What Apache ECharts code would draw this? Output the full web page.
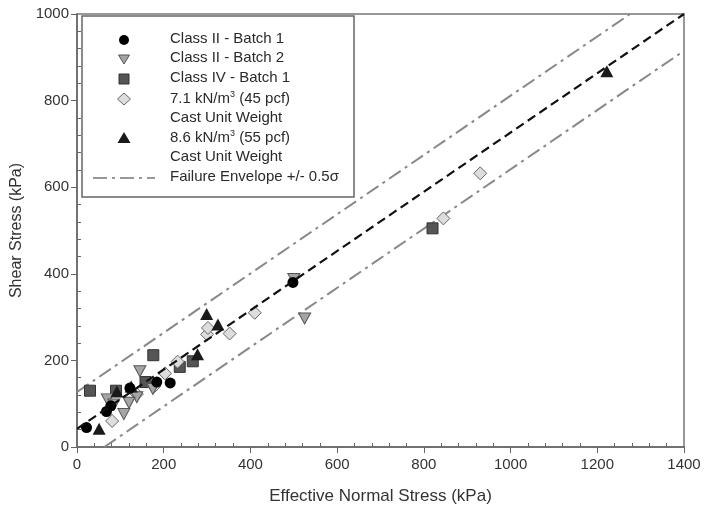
<!DOCTYPE html>
<html>
<head>
<meta charset="utf-8">
<script src="https://cdn.jsdelivr.net/npm/echarts@6/dist/echarts.min.js"></script>
<style>
  html, body { margin: 0; padding: 0; background: #fff; }
  #chart { width: 705px; height: 510px; }
</style>
</head>
<body>
<div id="chart"></div>
<script>
// data: [normal stress, shear stress] in kPa
var classII_b1 = [[22, 45], [68, 82], [78, 95], [122, 136], [184, 150], [215, 148], [498, 380]];
var classII_b2 = [[70, 110], [108, 76], [85, 98], [138, 115], [145, 175], [175, 134], [120, 102], [500, 388], [525, 297]];
var classIV_b1 = [[30, 130], [90, 130], [176, 212], [237, 185], [267, 198], [158, 150], [820, 505]];
var unit71 = [[81, 60], [138, 122], [178, 140], [203, 170], [232, 197], [300, 260], [302, 275], [352, 262], [410, 310], [845, 528], [930, 632]];
var unit86 = [[51, 42], [92, 128], [125, 140], [278, 214], [299, 307], [325, 283], [1222, 868]];
// fitted envelope and +/- 0.5 sigma lines (end points)
var envMean = [[0, 42], [1400, 1000]];
var envUpper = [[0, 127], [1276, 1000]];
var envLower = [[63, 0], [1400, 915]];

var xTicks = [0, 1400, 200];
var yTicks = [0, 1000, 200];
var legendNames = [
  'Class II - Batch 1',
  'Class II - Batch 2',
  'Class IV - Batch 1',
  '7.1 kN/m{sup|3} (45 pcf)',
  'Cast Unit Weight',
  '8.6 kN/m{sup|3} (55 pcf)',
  'Cast Unit Weight',
  'Failure Envelope +/- 0.5\u03c3'
];

var font = 'Liberation Sans, Arial, sans-serif';
var downTri = 'path://M0,0 L10,0 L5,9 Z';

var myChart = echarts.init(document.getElementById('chart'));

// legend box drawn by hand (symbol sits on the first line of two-line names)
var lg = [];
var rowY = [40, 59, 79, 99, 119, 138, 158, 178];
lg.push({ type: 'rect', shape: { x: 82, y: 16, width: 272, height: 181 }, style: { fill: '#fff', stroke: '#666', lineWidth: 1.5 } });
for (var i = 0; i < legendNames.length; i++) {
  lg.push({
    type: 'text', left: 170, top: rowY[i] - 9,
    style: {
      text: legendNames[i], font: '15px ' + font, fill: '#2a2a2a',
      rich: { sup: { fontSize: 9, verticalAlign: 'top', padding: [0, 0, 8, 0], fill: '#2a2a2a' } }
    }
  });
}
lg.push({ type: 'circle', shape: { cx: 124, cy: 40, r: 5 }, style: { fill: '#000' } });
lg.push({ type: 'polygon', shape: { points: [[118.5, 55], [129.5, 55], [124, 64]] }, style: { fill: '#a5a5a5', stroke: '#555', lineWidth: 1 } });
lg.push({ type: 'rect', shape: { x: 119, y: 74, width: 10, height: 10 }, style: { fill: '#555', stroke: '#333', lineWidth: 1 } });
lg.push({ type: 'polygon', shape: { points: [[124, 93], [130.5, 99], [124, 105], [117.5, 99]] }, style: { fill: '#ddd', stroke: '#666', lineWidth: 1 } });
lg.push({ type: 'polygon', shape: { points: [[124, 132], [130.5, 143], [117.5, 143]] }, style: { fill: '#1a1a1a' } });
lg.push({ type: 'line', shape: { x1: 93, y1: 178, x2: 155, y2: 178 }, style: { stroke: '#777', lineWidth: 1.5, lineDash: [14, 5, 3, 5] } });

var plain = function (v) { return String(v); };

var option = {
  animation: false,
  grid: {
    left: 77, right: 21, top: 14, bottom: 62,
    show: true, borderColor: '#777', borderWidth: 1.5, backgroundColor: '#fff'
  },
  graphic: lg,
  xAxis: [{
    type: 'value', min: xTicks[0], max: xTicks[1], interval: xTicks[2],
    name: 'Effective Normal Stress (kPa)', nameLocation: 'middle', nameGap: 41,
    nameTextStyle: { fontFamily: font, fontSize: 17, color: '#333' },
    axisLine: { lineStyle: { color: '#666', width: 1.5 } },
    axisTick: { length: 6, lineStyle: { color: '#666' } },
    axisLabel: { fontFamily: font, fontSize: 15, color: '#333', margin: 10, formatter: plain },
    splitLine: { show: false }
  }, {
    // overlay axis that only carries the inward minor ticks
    type: 'value', min: xTicks[0], max: xTicks[1], interval: xTicks[2], position: 'bottom',
    axisLine: { show: false }, axisLabel: { show: false },
    axisTick: { show: false, inside: true },
    minorTick: { show: true, splitNumber: 5, length: 4, lineStyle: { color: '#666' } },
    splitLine: { show: false }
  }],
  yAxis: [{
    type: 'value', min: yTicks[0], max: yTicks[1], interval: yTicks[2],
    name: 'Shear Stress (kPa)', nameLocation: 'middle', nameGap: 52, nameRotate: 90,
    nameTextStyle: { fontFamily: font, fontSize: 16, color: '#333' },
    axisLine: { show: true, lineStyle: { color: '#666', width: 1.5 } },
    axisTick: { show: true, length: 6, lineStyle: { color: '#666' } },
    axisLabel: { fontFamily: font, fontSize: 15, color: '#333', margin: 8, formatter: plain },
    splitLine: { show: false }
  }, {
    type: 'value', min: yTicks[0], max: yTicks[1], interval: yTicks[2], position: 'left',
    axisLine: { show: false }, axisLabel: { show: false },
    axisTick: { show: false, inside: true },
    minorTick: { show: true, splitNumber: 5, length: 4, lineStyle: { color: '#666' } },
    splitLine: { show: false }
  }],
  series: [
    {
      name: 'upper', type: 'line', data: envUpper, symbol: 'none', z: 1,
      lineStyle: { color: '#888', width: 2, type: [14, 5, 3, 5] }
    },
    {
      name: 'lower', type: 'line', data: envLower, symbol: 'none', z: 1,
      lineStyle: { color: '#888', width: 2, type: [14, 5, 3, 5] }
    },
    {
      name: 'mean', type: 'line', data: envMean, symbol: 'none', z: 3,
      lineStyle: { color: '#111', width: 2.2, type: [9, 5] }
    },
    {
      name: legendNames[2], type: 'scatter', data: classIV_b1, symbol: 'rect', symbolSize: 11, z: 2,
      itemStyle: { color: '#555', borderColor: '#333', borderWidth: 1, opacity: 1 }
    },
    {
      name: legendNames[3], type: 'scatter', data: unit71, symbol: 'diamond', symbolSize: 13, z: 2,
      itemStyle: { color: '#ddd', borderColor: '#666', borderWidth: 1, opacity: 1 }
    },
    {
      name: legendNames[1], type: 'scatter', data: classII_b2, symbol: downTri, symbolSize: [12, 11], z: 2,
      itemStyle: { color: '#a5a5a5', borderColor: '#555', borderWidth: 1, opacity: 1 }
    },
    {
      name: legendNames[5], type: 'scatter', data: unit86, symbol: 'triangle', symbolSize: [13, 12], z: 2,
      itemStyle: { color: '#1a1a1a', opacity: 1 }
    },
    {
      name: legendNames[0], type: 'scatter', data: classII_b1, symbol: 'circle', symbolSize: 11, z: 2,
      itemStyle: { color: '#000', opacity: 1 }
    }
  ]
};
myChart.setOption(option);
</script>
</body>
</html>
